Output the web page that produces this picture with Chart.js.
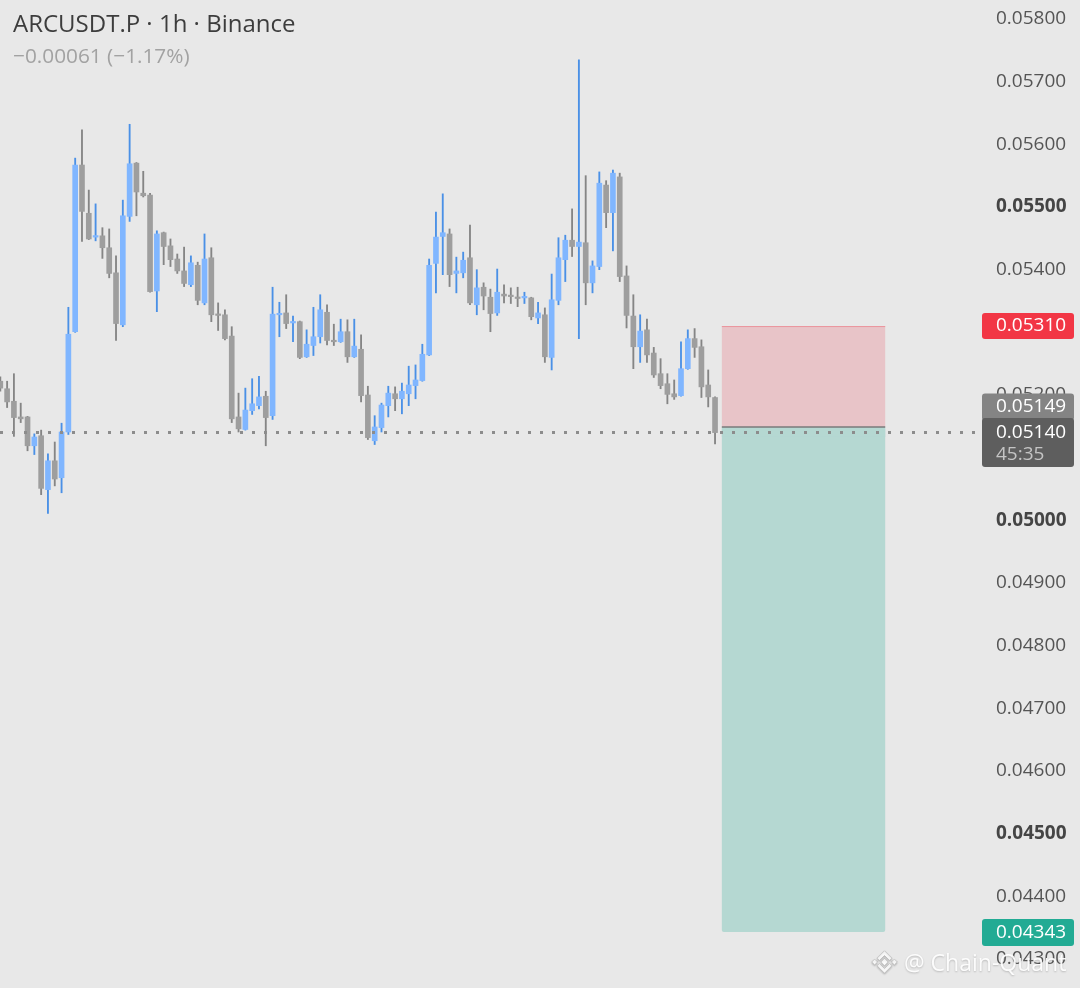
<!DOCTYPE html>
<html><head><meta charset="utf-8">
<script src="https://cdn.jsdelivr.net/npm/chart.js@4.4.1/dist/chart.umd.min.js"></script>
<style>
html,body{margin:0;padding:0;background:#e8e8e8;overflow:hidden;}
#wrap{width:1080px;height:988px;position:relative;}
canvas{display:block;}
</style></head><body>
<div id="wrap"><canvas id="c" width="1080" height="988"></canvas></div>
<script>
// ---- data ----
const opens = [0.05222,0.05210,0.05190,0.05165,0.05165,0.05119,0.05135,0.05049,0.05095,0.05068,
0.05141,0.05301,0.05567,0.05490,0.05452,0.05454,0.05435,0.05395,0.05312,0.05485,
0.05570,0.05522,0.05519,0.05366,0.05459,0.05438,0.05417,0.05398,0.05376,0.05407,
0.05347,0.05419,0.05329,0.05328,0.05294,0.05165,0.05145,0.05175,0.05183,0.05198,
0.05167,0.05328,0.05331,0.05315,0.05317,0.05261,0.05279,0.05293,0.05332,0.05287,
0.05285,0.05301,0.05261,0.05273,0.05200,0.05127,0.05148,0.05183,0.05202,0.05194,
0.05202,0.05215,0.05223,0.05264,0.05410,0.05453,0.05457,0.05394,0.05395,0.05419,
0.05344,0.05372,0.05356,0.05331,0.05361,0.05358,0.05356,0.05355,0.05355,0.05323,
0.05328,0.05260,0.05351,0.05416,0.05447,0.05437,0.05443,0.05379,0.05405,0.05535,
0.05491,0.05548,0.05390,0.05326,0.05277,0.05304,0.05267,0.05234,0.05218,0.05202,
0.05199,0.05242,0.05290,0.05277,0.05216,0.05196];
const highs = [0.05229,0.05222,0.05234,0.05187,0.05166,0.05138,0.05144,0.05106,0.05125,0.05155,
0.05340,0.05578,0.05623,0.05527,0.05505,0.05467,0.05465,0.05422,0.05511,0.05632,
0.05571,0.05557,0.05522,0.05462,0.05460,0.05449,0.05425,0.05436,0.05422,0.05412,
0.05457,0.05435,0.05347,0.05336,0.05309,0.05203,0.05211,0.05226,0.05230,0.05206,
0.05372,0.05348,0.05360,0.05326,0.05318,0.05304,0.05340,0.05360,0.05344,0.05313,
0.05321,0.05320,0.05321,0.05296,0.05214,0.05167,0.05187,0.05214,0.05213,0.05219,
0.05246,0.05248,0.05281,0.05417,0.05492,0.05521,0.05465,0.05420,0.05428,0.05471,
0.05400,0.05379,0.05369,0.05401,0.05376,0.05371,0.05372,0.05364,0.05356,0.05348,
0.05339,0.05393,0.05451,0.05455,0.05497,0.05735,0.05550,0.05414,0.05556,0.05542,
0.05559,0.05554,0.05406,0.05360,0.05328,0.05321,0.05276,0.05258,0.05234,0.05224,
0.05285,0.05304,0.05306,0.05288,0.05240,0.05197];
const lows = [0.05206,0.05180,0.05134,0.05156,0.05111,0.05105,0.05041,0.05011,0.05055,0.05044,
0.05137,0.05300,0.05445,0.05448,0.05446,0.05418,0.05387,0.05287,0.05309,0.05477,
0.05486,0.05516,0.05364,0.05333,0.05408,0.05405,0.05394,0.05373,0.05373,0.05344,
0.05344,0.05317,0.05303,0.05288,0.05156,0.05141,0.05144,0.05169,0.05178,0.05119,
0.05161,0.05293,0.05306,0.05285,0.05258,0.05260,0.05263,0.05283,0.05280,0.05279,
0.05284,0.05252,0.05260,0.05189,0.05129,0.05121,0.05141,0.05165,0.05175,0.05170,
0.05183,0.05194,0.05222,0.05263,0.05363,0.05392,0.05373,0.05363,0.05387,0.05344,
0.05328,0.05336,0.05301,0.05327,0.05347,0.05346,0.05341,0.05346,0.05320,0.05314,
0.05252,0.05240,0.05344,0.05381,0.05421,0.05290,0.05344,0.05363,0.05400,0.05467,
0.05430,0.05381,0.05307,0.05242,0.05252,0.05252,0.05228,0.05210,0.05186,0.05193,
0.05198,0.05241,0.05260,0.05196,0.05181,0.05122];
const closes = [0.05211,0.05189,0.05164,0.05162,0.05119,0.05133,0.05051,0.05095,0.05066,0.05141,
0.05297,0.05567,0.05493,0.05449,0.05454,0.05435,0.05394,0.05314,0.05486,0.05569,
0.05524,0.05518,0.05365,0.05457,0.05437,0.05416,0.05398,0.05378,0.05411,0.05351,
0.05417,0.05328,0.05327,0.05290,0.05162,0.05146,0.05176,0.05186,0.05197,0.05164,
0.05329,0.05330,0.05314,0.05317,0.05260,0.05281,0.05293,0.05336,0.05287,0.05285,
0.05301,0.05261,0.05278,0.05199,0.05132,0.05149,0.05184,0.05203,0.05194,0.05206,
0.05216,0.05224,0.05265,0.05407,0.05452,0.05459,0.05392,0.05398,0.05415,0.05347,
0.05371,0.05358,0.05330,0.05364,0.05358,0.05357,0.05354,0.05356,0.05325,0.05331,
0.05261,0.05352,0.05419,0.05447,0.05437,0.05444,0.05379,0.05406,0.05538,0.05491,
0.05554,0.05389,0.05327,0.05277,0.05302,0.05264,0.05232,0.05215,0.05201,0.05197,
0.05242,0.05290,0.05276,0.05213,0.05197,0.05140];
const boldTicks = [0.05500, 0.05000, 0.04500];
const symbolTitle = 'ARCUSDT.P · 1h · Binance';
const changeText = '\u22120.00061 (\u22121.17%)';
const stopPrice = 0.05310;
const entryPrice = 0.05149;
const lastPrice = 0.05140;
const targetPrice = 0.04343;
const countdown = '45:35';
const positionStart = 106, positionEnd = 130;
const watermark = '@ Chain-Quant';

// ---- view settings ----
const X_MIN = -0.044, X_MAX = 144.66;
const Y_MIN = 0.0425377, Y_MAX = 0.0583032;
const FONT = '"Open Sans", "Noto Sans", sans-serif';

const idx = opens.map((_, i) => i);
const isUp = idx.map(i => closes[i] >= opens[i]);
const bodyData = idx.map(i => ({x: i, y: [Math.min(opens[i], closes[i]), Math.max(opens[i], closes[i])]}));
const wickData = idx.map(i => ({x: i, y: [lows[i], highs[i]]}));
const isBold = ctx => !!(ctx && ctx.tick) && boldTicks.some(b => Math.abs(b - ctx.tick.value) < 1e-7);

function roundRect(ctx, x, y, w, h, r) {
  ctx.beginPath();
  ctx.moveTo(x + r, y);
  ctx.lineTo(x + w - r, y); ctx.quadraticCurveTo(x + w, y, x + w, y + r);
  ctx.lineTo(x + w, y + h - r); ctx.quadraticCurveTo(x + w, y + h, x + w - r, y + h);
  ctx.lineTo(x + r, y + h); ctx.quadraticCurveTo(x, y + h, x, y + h - r);
  ctx.lineTo(x, y + r); ctx.quadraticCurveTo(x, y, x + r, y);
  ctx.closePath();
}

const bgPlugin = {
  id: 'bg',
  beforeDraw(chart) {
    const c = chart.ctx;
    c.save(); c.fillStyle = '#e8e8e8'; c.fillRect(0, 0, chart.width, chart.height); c.restore();
  }
};

const positionPlugin = {
  id: 'position',
  beforeDatasetsDraw(chart) {
    const c = chart.ctx, xs = chart.scales.x, ys = chart.scales.y;
    const x0 = xs.getPixelForValue(positionStart), x1 = xs.getPixelForValue(positionEnd);
    const yS = ys.getPixelForValue(stopPrice), yE = ys.getPixelForValue(entryPrice), yT = ys.getPixelForValue(targetPrice);
    c.save();
    c.fillStyle = '#e8c4c8';
    c.fillRect(x0, yS, x1 - x0, yE - yS);
    c.fillStyle = '#b5d8d2';
    roundRect(c, x0, yE, x1 - x0, yT - yE, 2); c.fill();
    c.fillRect(x0, yE, x1 - x0, 10);
    c.strokeStyle = 'rgba(242,54,69,0.35)'; c.lineWidth = 1;
    c.beginPath(); c.moveTo(x0, yS + 0.5); c.lineTo(x1, yS + 0.5); c.stroke();
    c.strokeStyle = '#7a7a7a'; c.lineWidth = 1.5;
    c.beginPath(); c.moveTo(x0, yE); c.lineTo(x1, yE); c.stroke();
    c.restore();
  }
};

const overlayPlugin = {
  id: 'overlay',
  afterDatasetsDraw(chart) {
    const c = chart.ctx, ys = chart.scales.y;
    const yL = Math.round(ys.getPixelForValue(lastPrice)) - 0.5;
    c.save();
    c.strokeStyle = '#8c8c8c'; c.lineWidth = 3; c.setLineDash([3, 9]);
    c.beginPath(); c.moveTo(0, yL); c.lineTo(976, yL); c.stroke();
    c.restore();
  },
  afterDraw(chart) {
    const c = chart.ctx, ys = chart.scales.y;
    c.save();
    // title
    c.textBaseline = 'alphabetic'; c.textAlign = 'left';
    c.fillStyle = '#3d3d3d'; c.font = '24px ' + FONT;
    c.fillText(symbolTitle, 13, 32);
    c.fillStyle = '#a2a2a2'; c.font = '20.8px ' + FONT;
    c.fillText(changeText, 13, 63);

    // price labels on the axis
    const bx = 982, bw = 92, tx = 996;
    c.font = '19px ' + FONT; c.textBaseline = 'middle';
    const yS = ys.getPixelForValue(stopPrice);
    c.fillStyle = '#f23645'; roundRect(c, bx, yS - 13, bw, 26, 3); c.fill();
    c.fillStyle = '#ffffff'; c.fillText(stopPrice.toFixed(5), tx, yS);

    const yL = ys.getPixelForValue(lastPrice);
    const darkTop = yL - 14.5;
    c.fillStyle = '#848484'; roundRect(c, bx, darkTop - 24.5, bw, 27, 3); c.fill();
    c.fillStyle = '#ffffff'; c.fillText(entryPrice.toFixed(5), tx, darkTop - 12);
    c.fillStyle = '#5e5e5e'; roundRect(c, bx, darkTop, bw, 49, 3); c.fill();
    c.fillStyle = '#ffffff'; c.fillText(lastPrice.toFixed(5), tx, yL);
    c.fillStyle = '#c4c4c4'; c.fillText(countdown, tx, yL + 22);

    const yT = ys.getPixelForValue(targetPrice);
    c.fillStyle = '#22ab94'; roundRect(c, bx, yT - 13, bw, 27, 3); c.fill();
    c.fillStyle = '#ffffff'; c.fillText(targetPrice.toFixed(5), tx, yT + 0.5);

    // watermark
    const cx = 884.5, cy = 962, u = 3.4;
    c.shadowColor = 'rgba(0,0,0,0.22)'; c.shadowBlur = 2; c.shadowOffsetY = 1;
    c.fillStyle = 'rgba(255,255,255,0.95)'; c.strokeStyle = 'rgba(180,180,180,0.8)'; c.lineWidth = 0.8;
    const dia = (x, y, r) => { c.beginPath(); c.moveTo(x, y - r); c.lineTo(x + r, y); c.lineTo(x, y + r); c.lineTo(x - r, y); c.closePath(); c.fill(); c.stroke(); };
    dia(cx, cy, u * 1.1);
    dia(cx - 2.9 * u, cy, u * 0.85);
    dia(cx + 2.9 * u, cy, u * 0.85);
    const chev = (s) => {
      c.beginPath();
      c.moveTo(cx - 2.2 * u, cy - s * 1.1 * u);
      c.lineTo(cx, cy - s * 3.3 * u);
      c.lineTo(cx + 2.2 * u, cy - s * 1.1 * u);
      c.lineTo(cx + 1.5 * u, cy - s * 0.45 * u);
      c.lineTo(cx, cy - s * 1.9 * u);
      c.lineTo(cx - 1.5 * u, cy - s * 0.45 * u);
      c.closePath(); c.fill(); c.stroke();
    };
    chev(1); chev(-1);
    c.font = '23px ' + FONT; c.textBaseline = 'alphabetic';
    c.fillStyle = 'rgba(255,255,255,0.93)';
    c.fillText(watermark, 904, 971);
    c.restore();
  }
};

new Chart(document.getElementById('c'), {
  type: 'bar',
  data: {
    datasets: [
      {label: 'wick', data: wickData, backgroundColor: isUp.map(u => u ? '#4a90e6' : '#858585'),
       barThickness: 1.2, grouped: false, order: 2, minBarLength: 1, borderWidth: 0},
      {label: 'body', data: bodyData, backgroundColor: isUp.map(u => u ? '#80b6ff' : '#9e9e9e'),
       barThickness: 5, grouped: false, order: 1, minBarLength: 1.5, borderWidth: 0}
    ]
  },
  options: {
    responsive: false, animation: false, devicePixelRatio: 1,
    layout: {padding: 0},
    plugins: {legend: {display: false}, tooltip: {enabled: false}, title: {display: false}},
    scales: {
      x: {type: 'linear', min: X_MIN, max: X_MAX, display: false, offset: false,
          afterFit(s) { s.height = 0; s.paddingLeft = 0; s.paddingRight = 0; }},
      y: {position: 'right', min: Y_MIN, max: Y_MAX,
          grid: {display: false, drawTicks: false, tickLength: 0}, border: {display: false},
          ticks: {stepSize: 0.001, includeBounds: false, autoSkip: false, padding: 11,
                  color: ctx => isBold(ctx) ? '#454545' : '#555555',
                  font: ctx => ({family: FONT, size: 19, weight: isBold(ctx) ? 'bold' : 'normal'}),
                  callback: v => v.toFixed(5)},
          afterFit(s) { s.width = 95; s.paddingTop = 0; s.paddingBottom = 0; }}
    }
  },
  plugins: [bgPlugin, positionPlugin, overlayPlugin]
});
</script>
</body></html>
